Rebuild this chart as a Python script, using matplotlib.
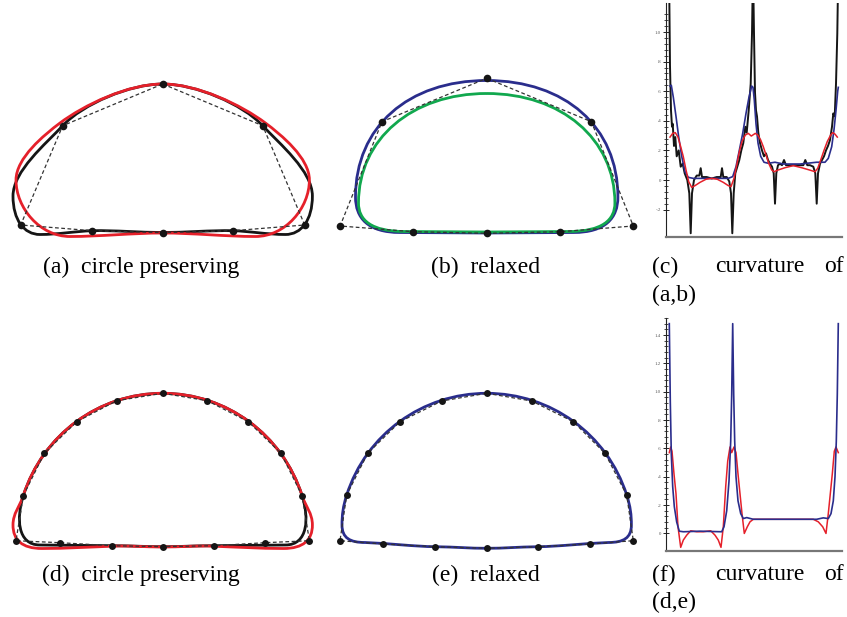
import numpy as np
import matplotlib
matplotlib.use("Agg")
import matplotlib.pyplot as plt
from matplotlib.path import Path
from matplotlib.patches import PathPatch

plt.rcParams['font.family'] = ['Liberation Serif', 'DejaVu Serif']

RED = '#e5202a'
BLUE = '#2a2d8c'
GREEN = '#11a84e'
BLACK = '#151515'

#%% control polygons (pixel units of the panel)
ctrl_a_x = [162.7, 262.7, 304.7, 233.1, 162.7, 92.3, 20.7, 62.7, 162.7]
ctrl_a_y = [84.0, 125.7, 225.0, 230.7, 232.7, 230.7, 225.0, 125.7, 84.0]

ctrl_b_x = [486.7, 591.4, 633.3, 560.1, 486.7, 413.3, 340.1, 382.0, 486.7]
ctrl_b_y = [78.3, 121.7, 226.0, 231.7, 233.3, 231.7, 226.0, 121.7, 78.3]

ctrl_d_x = [162.7, 207.3, 248.3, 281.0, 302.1, 309.4, 265.0, 214.0, 162.7,
            111.7, 60.0, 16.0, 23.3, 44.3, 76.7, 116.7, 162.7]
ctrl_d_y = [393.3, 400.7, 421.7, 453.3, 495.7, 540.7, 542.7, 545.7, 546.7,
            545.7, 542.7, 540.7, 495.7, 453.3, 421.7, 400.7, 393.3]

ctrl_e_x = [486.7, 531.7, 573.3, 605.0, 626.7, 633.3, 590.0, 538.3, 486.7,
            435.0, 383.3, 340.0, 346.7, 367.7, 400.0, 441.7, 486.7]
ctrl_e_y = [393.3, 401.0, 421.7, 453.3, 495.0, 540.7, 544.0, 546.7, 548.3,
            546.7, 544.0, 540.7, 495.0, 453.3, 421.7, 401.0, 393.3]

#%% curves as cubic bezier vertices (start, then c1, c2, end per segment)
curve_a_black = [(162.7, 84),
                 (130, 84), (83, 104), (62.7, 125.7),
                 (45.7, 144), (13, 171), (13, 196),
                 (13, 220), (24, 234.5), (40, 234.5),
                 (58, 234.5), (76, 231.2), (92.3, 230.7),
                 (115, 230.2), (140, 232.5), (162.7, 232.5),
                 (185.4, 232.5), (210.4, 230.2), (233.1, 230.7),
                 (249.4, 231.2), (267.4, 234.5), (285.4, 234.5),
                 (301.4, 234.5), (312.4, 220), (312.4, 196),
                 (312.4, 171), (279.7, 144), (262.7, 125.7),
                 (242.4, 104), (195.4, 84), (162.7, 84)]

curve_a_red = [(162.7, 84),
               (127.7, 84), (84, 105), (60, 123),
               (44, 135), (16, 158), (16, 180),
               (16, 208), (40, 236.5), (70, 236.5),
               (100, 236.5), (132.7, 233), (162.7, 233),
               (192.7, 233), (225.4, 236.5), (255.4, 236.5),
               (285.4, 236.5), (309.4, 208), (309.4, 180),
               (309.4, 158), (281.4, 135), (265.4, 123),
               (241.4, 105), (197.7, 84), (162.7, 84)]

curve_b_blue = [(486.7, 80.5),
                (408, 80.5), (355.5, 127), (355.5, 197),
                (355.5, 218), (368, 232.5), (400, 232.5),
                (430, 232.5), (460, 233), (486.7, 233),
                (513.4, 233), (543.4, 232.5), (573.4, 232.5),
                (605.4, 232.5), (617.9, 218), (617.9, 197),
                (617.9, 127), (565.4, 80.5), (486.7, 80.5)]

curve_b_green = [(486.7, 93.5),
                 (412, 93.5), (358.5, 139), (358.5, 203),
                 (358.5, 220), (371, 231.5), (405, 231.5),
                 (435, 231.5), (460, 232), (486.7, 232),
                 (513.4, 232), (538.4, 231.5), (568.4, 231.5),
                 (602.4, 231.5), (614.9, 220), (614.9, 203),
                 (614.9, 139), (561.4, 93.5), (486.7, 93.5)]

curve_d_black = [(162.7, 393.3),
                 (98.7, 393.3), (42.8, 434.8), (23.3, 495.7),
                 (16.3, 517.6), (17, 545), (40, 545),
                 (63, 545), (90, 545.7), (111.7, 545.7),
                 (130, 545.7), (145, 546.7), (162.7, 546.7),
                 (180.4, 546.7), (195.4, 545.7), (213.7, 545.7),
                 (235.4, 545.7), (262.4, 545), (285.4, 545),
                 (308.4, 545), (309.1, 517.6), (302.1, 495.7),
                 (282.6, 434.8), (226.7, 393.3), (162.7, 393.3)]

curve_d_red = [(162.7, 393.3),
               (98.7, 393.3), (42.8, 434.8), (23.3, 495.7),
               (19.6, 507.1), (13, 513), (13, 525),
               (13, 540), (22, 548.5), (42, 548.5),
               (65, 548.5), (92, 547), (111.7, 546.2),
               (130, 545.5), (145, 547), (162.7, 547),
               (180.4, 547), (195.4, 545.5), (213.7, 546.2),
               (233.4, 547), (260.4, 548.5), (283.4, 548.5),
               (303.4, 548.5), (312.4, 540), (312.4, 525),
               (312.4, 513), (305.8, 507.1), (302.1, 495.7),
               (282.6, 434.8), (226.7, 393.3), (162.7, 393.3)]

curve_e_blue = [(486.7, 393.3),
                (422.7, 393.3), (366.2, 434.1), (346.7, 495),
                (343, 506.4), (342, 515), (342, 525),
                (342, 538), (350, 542.5), (365, 542.5),
                (390, 543.5), (415, 546.5), (435, 546.7),
                (455, 547), (470, 548.3), (486.7, 548.3),
                (503.4, 548.3), (518.4, 547), (538.4, 546.7),
                (558.4, 546.5), (583.4, 543.5), (608.4, 542.5),
                (623.4, 542.5), (631.4, 538), (631.4, 525),
                (631.4, 515), (630.4, 506.4), (626.7, 495),
                (607.2, 434.1), (550.7, 393.3), (486.7, 393.3)]

#%% curvature plots (c): arc position vs curvature
c_black_x = [3.0, 4.0, 5.0, 6.0, 6.7, 8.0, 9.3, 10.7, 12.7, 14.7, 16.7, 18.7, 21.3, 23.3, 24.7,
             26.0, 28.0, 30.7, 33.3, 34.7, 36.0, 40.7, 45.7, 50.7, 54.7, 56.0, 57.3, 60.7, 63.3,
             65.0, 66.3, 67.7, 69.3, 71.3, 73.3, 75.3, 77.3, 79.3, 80.7, 82.7, 84.7, 86.0, 87.0,
             88.0, 89.0, 90.0, 91.0, 92.3, 94.0, 96.0, 98.0, 100.0, 102.0, 104.0, 106.0, 107.7,
             109.0, 110.3, 112.0, 114.0, 116.0, 118.0, 120.0, 124.0, 130.7, 137.3, 139.3, 141.3,
             144.0, 147.3, 149.3, 150.7, 152.0, 154.0, 156.0, 158.0, 160.0, 162.0, 164.0, 166.0,
             167.3, 168.7, 170.0, 171.3, 172.3]
c_black_y = [1.44, 0.77, 0.47, 0.36, 0.38, 0.23, 0.29, 0.16, 0.20, 0.09, 0.11, 0.045, 0.0, -0.09,
             -0.36, -0.09, 0.0, 0.03, 0.03, 0.08, 0.02, 0.02, 0.01, 0.02, 0.02, 0.08, 0.02, 0.02,
             -0.01, -0.09, -0.36, -0.09, 0.045, 0.09, 0.135, 0.20, 0.25, 0.36, 0.32, 0.47, 0.65,
             0.99, 1.44, 0.99, 0.59, 0.47, 0.43, 0.32, 0.25, 0.20, 0.16, 0.18, 0.135, 0.11, 0.09,
             0.045, -0.16, 0.045, 0.10, 0.11, 0.10, 0.135, 0.10, 0.10, 0.10, 0.10, 0.135, 0.10,
             0.10, 0.09, 0.045, -0.16, 0.045, 0.11, 0.135, 0.16, 0.20, 0.23, 0.27, 0.36, 0.45,
             0.43, 0.65, 0.99, 1.44]

c_blue_x = [4.0, 5.3, 7.3, 10.0, 12.7, 15.7, 19.0, 22.3, 27.3, 44.0, 62.3, 66.7, 70.0, 73.3, 76.7,
            80.0, 83.0, 85.7, 87.0, 88.3, 90.0, 92.0, 94.7, 98.0, 102.3, 109.0, 117.3, 134.0,
            150.7, 159.0, 162.3, 165.7, 168.0, 170.0, 171.7, 172.3]
c_blue_y = [0.635, 0.64, 0.56, 0.43, 0.29, 0.16, 0.056, 0.018, 0.011, 0.011, 0.011, 0.023, 0.09,
            0.20, 0.315, 0.45, 0.56, 0.635, 0.626, 0.54, 0.38, 0.25, 0.16, 0.12, 0.113, 0.12,
            0.108, 0.108, 0.12, 0.12, 0.146, 0.225, 0.34, 0.47, 0.60, 0.626]

c_red_x = [4.0, 6.7, 9.3, 12.0, 14.7, 17.3, 20.0, 22.7, 25.7, 29.0, 34.0, 40.0, 45.7, 51.3, 57.3,
           62.3, 65.0, 68.0, 70.7, 73.3, 76.0, 79.3, 82.3, 85.3, 87.3, 89.3, 91.7, 94.7, 97.3,
           100.0, 102.7, 105.7, 108.0, 112.3, 119.0, 127.3, 135.7, 143.3, 149.0, 151.7, 154.7,
           158.0, 161.3, 164.7, 166.7, 169.0, 171.3]
c_red_y = [0.29, 0.315, 0.32, 0.29, 0.225, 0.158, 0.068, -0.011, -0.05, -0.038, -0.016, 0.005,
           0.011, 0.005, -0.016, -0.038, -0.045, 0.011, 0.10, 0.19, 0.26, 0.304, 0.315, 0.297,
           0.306, 0.315, 0.304, 0.27, 0.225, 0.17, 0.113, 0.068, 0.056, 0.068, 0.083, 0.097,
           0.083, 0.068, 0.056, 0.079, 0.135, 0.20, 0.26, 0.304, 0.32, 0.31, 0.29]

#%% curvature plots (f)
f_blue_x = [3.3, 4.3, 5.3, 6.7, 8.3, 10.7, 13.3, 17.3, 34.0, 55.7, 58.0, 60.7, 63.0, 64.7, 65.7,
            66.7, 67.7, 68.7, 70.0, 72.0, 74.7, 77.3, 80.7, 87.3, 117.3, 150.7, 157.3, 162.3,
            165.0, 167.3, 169.0, 170.3, 171.3, 172.3]
f_blue_y = [1.48, 0.93, 0.56, 0.33, 0.19, 0.08, 0.016, 0.012, 0.016, 0.012, 0.047, 0.16, 0.37,
            0.65, 0.98, 1.48, 0.98, 0.65, 0.40, 0.23, 0.14, 0.105, 0.112, 0.10, 0.10, 0.10, 0.11,
            0.105, 0.14, 0.23, 0.40, 0.65, 0.98, 1.48]

f_red_x = [3.3, 4.7, 6.0, 8.0, 10.0, 12.0, 14.7, 17.3, 20.7, 24.7, 30.7, 37.3, 44.7, 49.0, 52.3,
           55.0, 57.3, 59.7, 61.7, 64.0, 65.7, 68.0, 70.0, 72.0, 74.0, 76.0, 78.3, 81.3, 84.0,
           87.3, 117.3, 147.3, 152.3, 156.7, 160.0, 162.3, 164.3, 166.3, 168.3, 170.0, 172.3]
f_red_y = [0.57, 0.61, 0.58, 0.42, 0.28, 0.047, -0.098, -0.047, -0.012, 0.019, 0.012, 0.012,
           0.019, -0.012, -0.047, -0.098, 0.047, 0.33, 0.51, 0.61, 0.57, 0.61, 0.57, 0.42, 0.28,
           0.14, 0.0, 0.047, 0.082, 0.10, 0.10, 0.10, 0.082, 0.047, 0.0, 0.14, 0.28, 0.42, 0.58,
           0.61, 0.57]

W, H = 847, 617
fig = plt.figure(figsize=(W / 100, H / 100), dpi=100)


def panel(x0, x1, y0, y1):
    ax = fig.add_axes([x0 / W, 1 - y1 / H, (x1 - x0) / W, (y1 - y0) / H])
    ax.set_xlim(x0, x1)
    ax.set_ylim(y1, y0)
    ax.axis('off')
    return ax


def bezier(ax, verts, color, lw=2.0, z=2):
    codes = [Path.MOVETO] + [Path.CURVE4] * (len(verts) - 1)
    ax.add_patch(PathPatch(Path(verts, codes), fill=False, ec=color, lw=lw,
                           joinstyle='round', zorder=z))


def polygon(ax, xs, ys, ms=5):
    ax.plot(xs, ys, color='#333333', lw=0.9, dashes=(3, 2), zorder=3)
    ax.plot(xs[:-1], ys[:-1], 'o', color=BLACK, ms=ms, mec='none', zorder=5)


ax_a = panel(0, 325, 60, 250)
bezier(ax_a, curve_a_black, BLACK)
bezier(ax_a, curve_a_red, RED, z=2.5)
polygon(ax_a, ctrl_a_x, ctrl_a_y, ms=5.5)

ax_b = panel(325, 650, 60, 250)
bezier(ax_b, curve_b_blue, BLUE)
bezier(ax_b, curve_b_green, GREEN)
polygon(ax_b, ctrl_b_x, ctrl_b_y, ms=5.5)

ax_d = panel(0, 325, 375, 565)
bezier(ax_d, curve_d_black, BLACK)
bezier(ax_d, curve_d_red, RED, z=2.5)
polygon(ax_d, ctrl_d_x, ctrl_d_y)

ax_e = panel(325, 650, 375, 565)
bezier(ax_e, curve_e_blue, BLUE)
polygon(ax_e, ctrl_e_x, ctrl_e_y)


def curv_axes(px_top, px_bot, px_zero, px_per_unit, ticks):
    ax = fig.add_axes([666 / W, 1 - px_bot / H, 176 / W, (px_bot - px_top) / H])
    ax.set_xlim(0, 176)
    ax.set_ylim((px_zero - px_bot) / px_per_unit, (px_zero - px_top) / px_per_unit)
    for s in ['top', 'right']:
        ax.spines[s].set_visible(False)
    ax.spines['left'].set_linewidth(0.8)
    ax.spines['left'].set_color('#222222')
    ax.spines['bottom'].set_linewidth(1.6)
    ax.spines['bottom'].set_color('#777777')
    ax.set_xticks([])
    ax.set_yticks(ticks)
    ax.set_yticks(np.arange(ticks[0], ticks[-1] + 0.15, 0.04), minor=True)
    ax.set_yticklabels([('%.1f' % t).replace('0.', '.') if t != 0 else '0' for t in ticks])
    ax.tick_params(axis='y', which='major', direction='inout', length=5, width=0.6,
                   labelsize=3.5, labelcolor='#555555', pad=1)
    ax.tick_params(axis='y', which='minor', direction='inout', length=3, width=0.5)
    ax.patch.set_alpha(0)
    return ax


ax_c = curv_axes(3, 237, 180, 148, [-0.2, 0, 0.2, 0.4, 0.6, 0.8, 1.0])
ax_c.plot(c_black_x, c_black_y, color=BLACK, lw=1.4)
ax_c.plot(c_blue_x, c_blue_y, color=BLUE, lw=1.2)
ax_c.plot(c_red_x, c_red_y, color=RED, lw=1.1)

ax_f = curv_axes(318, 550.7, 533.3, 143, [0, 0.2, 0.4, 0.6, 0.8, 1.0, 1.2, 1.4])
ax_f.plot(f_red_x, f_red_y, color=RED, lw=1.1)
ax_f.plot(f_blue_x, f_blue_y, color=BLUE, lw=1.2)

#%% captions
fs = 17
cap = dict(fontsize=fs, va='center', color='black')
fig.text(141 / W, 1 - 267 / H, '(a)  circle preserving', ha='center', **cap)
fig.text(486 / W, 1 - 267 / H, '(b)  relaxed', ha='center', **cap)
fig.text(652 / W, 1 - 267 / H, '(c)', ha='left', **cap)
fig.text(760 / W, 1 - 267 / H, 'curvature', ha='center', **cap)
fig.text(844 / W, 1 - 267 / H, 'of', ha='right', **cap)
fig.text(652 / W, 1 - 295 / H, '(a,b)', ha='left', **cap)

fig.text(141 / W, 1 - 575 / H, '(d)  circle preserving', ha='center', **cap)
fig.text(486 / W, 1 - 575 / H, '(e)  relaxed', ha='center', **cap)
fig.text(652 / W, 1 - 575 / H, '(f)', ha='left', **cap)
fig.text(760 / W, 1 - 575 / H, 'curvature', ha='center', **cap)
fig.text(844 / W, 1 - 575 / H, 'of', ha='right', **cap)
fig.text(652 / W, 1 - 602 / H, '(d,e)', ha='left', **cap)

fig.savefig('out.png', dpi=100)
